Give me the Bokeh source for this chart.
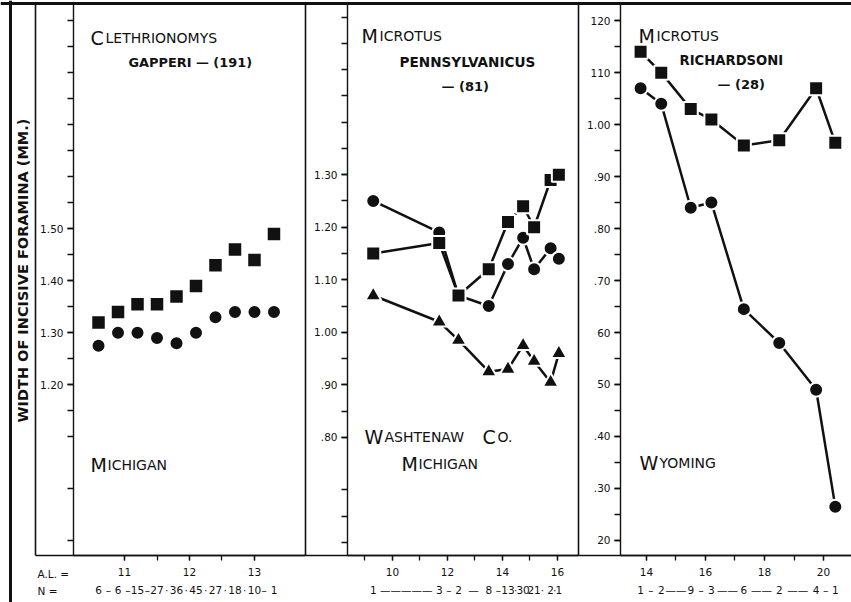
import math
from bokeh.plotting import figure
from bokeh.layouts import row, column
from bokeh.models import Range1d, FixedTicker, LinearAxis
from bokeh.core.properties import value
from bokeh.embed import file_html
from bokeh.resources import INLINE

INK = "#111111"
FONT = "DejaVu Sans"

# ---------------- data ----------------
# Panel 1: Clethrionomys gapperi (Michigan)
gap_al = [10.6, 10.9, 11.2, 11.5, 11.8, 12.1, 12.4, 12.7, 13.0, 13.3]
gap_circle = [1.275, 1.30, 1.30, 1.29, 1.28, 1.30, 1.33, 1.34, 1.34, 1.34]
gap_square = [1.32, 1.34, 1.355, 1.355, 1.37, 1.39, 1.43, 1.46, 1.44, 1.49]
gap_n = [6, 6, 15, 27, 36, 45, 27, 18, 10, 1]
gap_sep = ["–", "–", "–", "·", "·", "·", "·", "·", "–"]

# Panel 2: Microtus pennsylvanicus (Washtenaw Co., Michigan)
pen_al = [9.3, 11.7, 12.4, 13.5, 14.2, 14.75, 15.15, 15.75, 16.05]
pen_circle = [1.25, 1.19, 1.07, 1.05, 1.13, 1.18, 1.12, 1.16, 1.14]
pen_square = [1.15, 1.17, 1.07, 1.12, 1.21, 1.24, 1.20, 1.29, 1.30]
pen_triangle = [1.07, 1.02, 0.985, 0.925, 0.93, 0.975, 0.945, 0.905, 0.96]
pen_n = [1, 3, 2, 8, 13, 30, 21, 2, 1]
pen_sep = ["—————", "–", "—", "–", "·", "", "·", "·"]

# Panel 3: Microtus richardsoni (Wyoming)
ric_al = [13.8, 14.5, 15.5, 16.2, 17.3, 18.5, 19.75, 20.4]
ric_circle = [1.07, 1.04, 0.84, 0.85, 0.645, 0.58, 0.49, 0.265]
ric_square = [1.14, 1.10, 1.03, 1.01, 0.96, 0.97, 1.07, 0.965]
ric_n = [1, 2, 9, 3, 6, 2, 4, 1]
ric_sep = ["–", "——", "–", "——", "——", "——", "–"]

# ---------------- ticks ----------------
gap_x_ticks = [11, 12, 13]
gap_x_minor = [11, 11.5, 12, 12.5, 13]
gap_y_ticks = [1.20, 1.30, 1.40, 1.50]
gap_y_text = ["1.20", "1.30", "1.40", "1.50"]
gap_y_minor = [0.90, 1.00, 1.10, 1.15, 1.20, 1.25, 1.30, 1.35, 1.40, 1.45, 1.50,
               1.55, 1.60, 1.65, 1.70, 1.75, 1.80, 1.85, 1.90]

pen_x_ticks = [10, 12, 14, 16]
pen_x_minor = [9, 10, 11, 12, 13, 14, 15, 16]
pen_y_ticks = [0.80, 0.90, 1.00, 1.10, 1.20, 1.30]
pen_y_text = [".80", ".90", "1.00", "1.10", "1.20", "1.30"]
pen_y_minor = [0.60, 0.65, 0.70, 0.80, 0.85, 0.90, 0.95, 1.00, 1.05, 1.10, 1.15,
               1.20, 1.25, 1.30, 1.35, 1.40, 1.45, 1.50, 1.55, 1.60]

ric_x_ticks = [14, 16, 18, 20]
ric_x_minor = [14, 15, 16, 17, 18, 19, 20]
ric_y_ticks = [0.20, 0.30, 0.40, 0.50, 0.60, 0.70, 0.80, 0.90, 1.00, 1.10, 1.20]
ric_y_text = ["20", ".30", ".40", "50", "60", ".70", ".80", ".90", "1.00", "110", "120"]
ric_y_minor = [0.20, 0.25, 0.30, 0.35, 0.40, 0.45, 0.50, 0.55, 0.60, 0.65, 0.70,
               0.75, 0.80, 0.85, 0.90, 0.95, 1.00, 1.05, 1.10, 1.15, 1.20]

# ---------------- layout geometry (pixels) ----------------
PAGE_W, PAGE_H = 851, 602
TOP, BOTTOM = 3, 555
DIV = [35, 305, 578]          # panel dividers
AXX = [73, 347, 620]          # y-axis positions
RIGHT = [305, 578, 851]

# ---------------- background (frame lines and captions) ----------------
bg = figure(width=PAGE_W, height=PAGE_H, x_range=Range1d(0, PAGE_W),
            y_range=Range1d(PAGE_H, 0), output_backend="svg",
            toolbar_location=None, x_axis_type=None, y_axis_type=None,
            min_border=0, title=None)
bg.grid.visible = False
bg.outline_line_color = None
bg.background_fill_color = "white"
bg.border_fill_color = "white"

bg.segment(x0=[10], y0=[0], x1=[10], y1=[PAGE_H], line_color=INK, line_width=3)
bg.segment(x0=[0], y0=[TOP], x1=[PAGE_W], y1=[TOP], line_color=INK, line_width=3)
bg.segment(x0=DIV, y0=[TOP] * 3, x1=DIV, y1=[BOTTOM] * 3, line_color=INK, line_width=1.6)
bg.segment(x0=[DIV[0]], y0=[BOTTOM], x1=[PAGE_W], y1=[BOTTOM], line_color=INK, line_width=1.6)


def txt(x, y, s, size, bold=False, align="left", baseline="alphabetic", angle=0.0):
    bg.text(x=[x], y=[y], text=[s], text_font=value(FONT),
            text_font_size=f"{size}px",
            text_font_style="bold" if bold else "normal",
            text_align=align, text_baseline=baseline, angle=angle,
            text_color=INK)


BIG, SMALL, SUB = 19, 14, 13
# Panel 1 captions
txt(90, 37, "C", BIG); txt(105, 37, "LETHRIONOMYS", SMALL)
txt(128, 62, "GAPPERI — (191)", 12.9, bold=True)
txt(90, 464, "M", BIG); txt(107, 464, "ICHIGAN", SMALL)
# Panel 2 captions
txt(361, 35, "M", BIG); txt(379, 35, "ICROTUS", SMALL)
txt(399, 61, "PENNSYLVANICUS", 13.6, bold=True)
txt(441, 86, "— (81)", SUB, bold=True)
txt(364, 436, "W", BIG); txt(384, 436, "ASHTENAW", SMALL)
txt(482, 436, "C", BIG); txt(497, 436, "O.", SMALL)
txt(401, 463, "M", BIG); txt(418, 463, "ICHIGAN", SMALL)
# Panel 3 captions
txt(638, 35, "M", BIG); txt(656, 35, "ICROTUS", SMALL)
txt(679, 60, "RICHARDSONI", SUB + 0.2, bold=True)
txt(717, 84, "— (28)", SUB, bold=True)
txt(639, 462, "W", BIG); txt(659, 462, "YOMING", SMALL)
# Y axis title and row labels
txt(22, 270, "WIDTH OF INCISIVE FORAMINA (MM.)", 14.5, bold=True,
    align="center", baseline="middle", angle=math.pi / 2)
txt(37, 573, "A.L.  =", 10.5)
txt(37, 590, "N    =", 10.5)

# ---------------- data panels ----------------


def panel(i, xr, yr):
    width = RIGHT[i] - (0 if i == 0 else DIV[i])
    left = AXX[i] - (0 if i == 0 else DIV[i])
    p = figure(width=width, height=PAGE_H, x_range=Range1d(*xr), y_range=Range1d(*yr),
               output_backend="svg", toolbar_location=None, title=None,
               min_border_left=left, min_border_right=0,
               min_border_top=TOP, min_border_bottom=PAGE_H - BOTTOM)
    p.grid.visible = False
    p.outline_line_color = None
    p.background_fill_color = None
    p.border_fill_color = None
    return p


def style_axes(p, xt, xm, yt, ytxt, ym):
    xa = p.xaxis[0]
    xa.ticker = FixedTicker(ticks=xt, minor_ticks=xm)
    xa.major_label_overrides = {float(t): str(t) for t in xt}
    ya = p.yaxis[0]
    ya.ticker = FixedTicker(ticks=yt, minor_ticks=ym)
    ya.major_label_overrides = {round(t, 2): s for t, s in zip(yt, ytxt)}
    for ax, out, stand in ((xa, 5, 7), (ya, 6, 4)):
        ax.axis_line_color = INK
        ax.axis_line_width = 1.4
        ax.major_tick_line_color = INK
        ax.minor_tick_line_color = INK
        ax.major_tick_line_width = 1.3
        ax.minor_tick_line_width = 1.3
        ax.major_tick_in = 0
        ax.minor_tick_in = 0
        ax.major_tick_out = out
        ax.minor_tick_out = out
        ax.major_label_standoff = stand
        ax.major_label_text_font = FONT
        ax.major_label_text_font_size = "10.5px"
        ax.major_label_text_color = INK


def n_axis(p, xs, counts, seps):
    ticks, labels = [], {}
    for k, (x, c) in enumerate(zip(xs, counts)):
        ticks.append(round(x, 4))
        labels[round(x, 4)] = str(c)
        if k < len(seps) and seps[k]:
            m = round((x + xs[k + 1]) / 2, 4)
            ticks.append(m)
            labels[m] = seps[k]
    ax = LinearAxis(ticker=FixedTicker(ticks=ticks, minor_ticks=[]),
                    major_label_overrides=labels)
    ax.axis_line_color = None
    ax.major_tick_line_color = None
    ax.major_tick_in = 0
    ax.major_tick_out = 0
    ax.minor_tick_line_color = None
    ax.major_label_standoff = 5
    ax.major_label_text_font = FONT
    ax.major_label_text_font_size = "10.5px"
    ax.major_label_text_color = INK
    p.add_layout(ax, "below")


def series(p, x, y, marker, size, connect):
    if connect:
        p.line(x, y, line_color=INK, line_width=2.5)
    p.scatter(x, y, marker=marker, size=size + 2, fill_color=INK,
              line_color="white", line_width=2)


p1 = panel(0, (10.215, 13.785), (0.872, 1.933))
series(p1, gap_al, gap_circle, "circle", 12, False)
series(p1, gap_al, gap_square, "square", 12.5, False)
style_axes(p1, gap_x_ticks, gap_x_minor, gap_y_ticks, gap_y_text, gap_y_minor)
n_axis(p1, gap_al, gap_n, gap_sep)

p2 = panel(1, (8.364, 16.764), (0.575, 1.626))
series(p2, pen_al, pen_circle, "circle", 12, True)
series(p2, pen_al, pen_square, "square", 12, True)
series(p2, pen_al, pen_triangle, "triangle", 14, True)
style_axes(p2, pen_x_ticks, pen_x_minor, pen_y_ticks, pen_y_text, pen_y_minor)
n_axis(p2, pen_al, pen_n, pen_sep)

p3 = panel(2, (13.119, 20.949), (0.171, 1.233))
series(p3, ric_al, ric_circle, "circle", 12, True)
series(p3, ric_al, ric_square, "square", 12, True)
style_axes(p3, ric_x_ticks, ric_x_minor, ric_y_ticks, ric_y_text, ric_y_minor)
n_axis(p3, ric_al, ric_n, ric_sep)

panels = row(p1, p2, p3, spacing=0)
panels.margin = (-PAGE_H, 0, 0, 0)
layout = column(bg, panels, spacing=0)

open("out.html", "w").write(file_html(layout, INLINE))
